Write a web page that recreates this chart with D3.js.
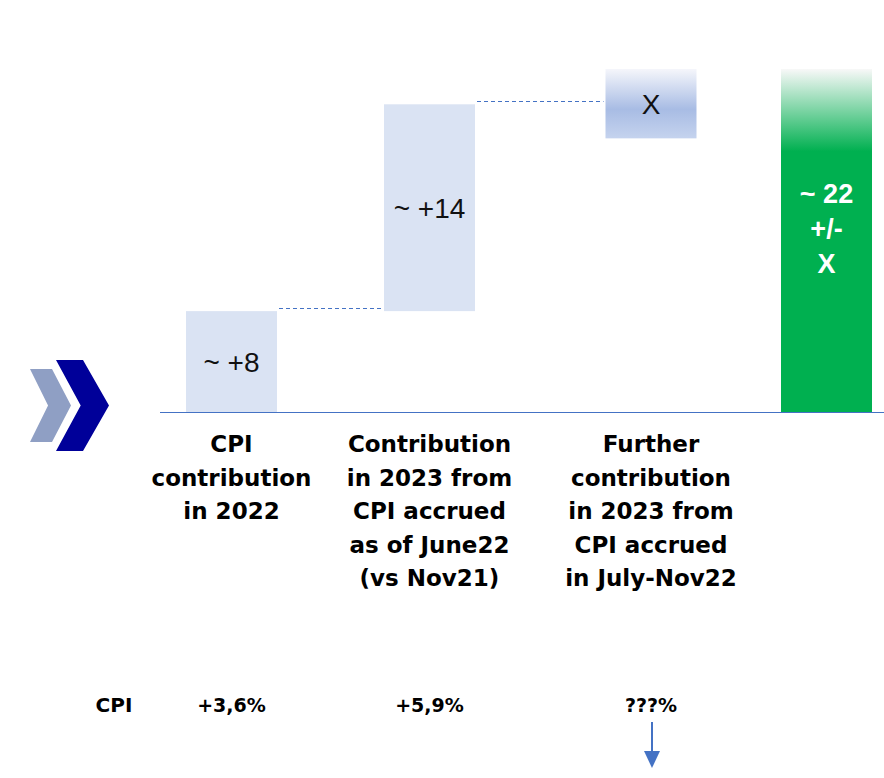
<!DOCTYPE html>
<html>
<head>
<meta charset="utf-8">
<script src="https://cdn.jsdelivr.net/npm/d3@7"></script>
<style>
  html, body { margin: 0; padding: 0; background: #fff; }
  svg { display: block; }
</style>
</head>
<body>
<svg id="chart" width="884" height="778"></svg>
<script>
// Data
const steps = ["step2022", "step2023a", "step2023b", "total"];
const stepLabels = [
  ["CPI", "contribution", "in 2022"],
  ["Contribution", "in 2023 from", "CPI accrued", "as of June22", "(vs Nov21)"],
  ["Further", "contribution", "in 2023 from", "CPI accrued", "in July-Nov22"]
];
const lows = [0, 8, 21.7];
const highs = [8, 24.4, 27.2];
const barText = ["~ +8", "~ +14", "X"];
const totalValue = 27.2;
const totalText = ["~ 22", "+/-", "X"];
const cpiLabel = "CPI";
const cpiValues = ["+3,6%", "+5,9%", "???%"];

const W = 884, H = 778;
const svg = d3.select("#chart");
const FONT = "'DejaVu Sans', sans-serif";
const BLUE = "#4472c4";

const x = d3.scaleOrdinal().domain(steps).range([231.5, 429.5, 651, 826.5]);
const bw = 91;
const y = d3.scaleLinear().domain([0, totalValue]).range([412, 69]);

// gradients
const defs = svg.append("defs");
const gX = defs.append("linearGradient").attr("id", "gX").attr("x1", 0).attr("x2", 0).attr("y1", 0).attr("y2", 1);
gX.append("stop").attr("offset", "0%").attr("stop-color", "#f5f6fb");
gX.append("stop").attr("offset", "58%").attr("stop-color", "#a8bce4");
gX.append("stop").attr("offset", "100%").attr("stop-color", "#c5d3ee");
const gG = defs.append("linearGradient").attr("id", "gG").attr("x1", 0).attr("x2", 0).attr("y1", 0).attr("y2", 1);
gG.append("stop").attr("offset", "0%").attr("stop-color", "#f8f8f8");
gG.append("stop").attr("offset", "24%").attr("stop-color", "#00b050");
gG.append("stop").attr("offset", "100%").attr("stop-color", "#00b050");

// chevrons
function chevron(x0, yc, w, h, notch, fill) {
  const p = d3.path();
  p.moveTo(x0, yc - h / 2);
  p.lineTo(x0 + w - notch, yc - h / 2);
  p.lineTo(x0 + w, yc);
  p.lineTo(x0 + w - notch, yc + h / 2);
  p.lineTo(x0, yc + h / 2);
  p.lineTo(x0 + notch * 0.95, yc);
  p.closePath();
  svg.append("path").attr("d", p.toString()).attr("fill", fill);
}
chevron(30, 405.5, 41, 73, 19, "#8f9fc4");
chevron(56, 405.5, 53, 91, 26, "#000099");

// connectors
const stepsOnly = steps.slice(0, 3);
svg.append("g").selectAll("line").data(stepsOnly.slice(0, 2)).join("line")
  .attr("x1", (d, i) => x(d) + bw / 2 + 2)
  .attr("x2", (d, i) => x(stepsOnly[i + 1]) - bw / 2 - 2)
  .attr("y1", (d, i) => Math.round(y(highs[i])) - 2.5)
  .attr("y2", (d, i) => Math.round(y(highs[i])) - 2.5)
  .attr("stroke", BLUE).attr("stroke-width", 1).attr("stroke-dasharray", "4,3");

// step bars
svg.append("g").selectAll("rect").data(stepsOnly).join("rect")
  .attr("x", d => x(d) - bw / 2)
  .attr("width", bw)
  .attr("y", (d, i) => y(highs[i]))
  .attr("height", (d, i) => y(lows[i]) - y(highs[i]))
  .attr("fill", (d, i) => i === 2 ? "url(#gX)" : "#dae3f3");

svg.append("g").selectAll("text").data(stepsOnly).join("text")
  .attr("x", d => x(d))
  .attr("y", (d, i) => (y(highs[i]) + y(lows[i])) / 2)
  .attr("dy", "0.36em")
  .attr("text-anchor", "middle")
  .style("font-family", "'Liberation Sans', Arial, sans-serif").style("font-size", "28px")
  .style("fill", "#111")
  .text((d, i) => barText[i]);

// total bar
svg.append("rect")
  .attr("x", x("total") - bw / 2).attr("width", bw)
  .attr("y", y(totalValue)).attr("height", y(0) - y(totalValue))
  .attr("fill", "url(#gG)");
svg.append("text")
  .attr("x", x("total")).attr("y", 203)
  .attr("text-anchor", "middle")
  .style("font-family", "'Liberation Sans', Arial, sans-serif").style("font-size", "27px").style("font-weight", "bold")
  .style("fill", "#fff")
  .selectAll("tspan").data(totalText).join("tspan")
  .attr("x", x("total")).attr("dy", (d, i) => i === 0 ? 0 : 35)
  .text(d => d);

// baseline
svg.append("line")
  .attr("x1", 160).attr("x2", W)
  .attr("y1", y(0) + 0.5).attr("y2", y(0) + 0.5)
  .attr("stroke", BLUE).attr("stroke-width", 1);

// category labels
svg.append("g").selectAll("text").data(stepsOnly).join("text")
  .attr("text-anchor", "middle")
  .attr("y", 452)
  .style("font-family", FONT).style("font-size", "23px").style("font-weight", "bold").style("fill", "#000")
  .each(function (d, i) {
    d3.select(this).selectAll("tspan").data(stepLabels[i]).join("tspan")
      .attr("x", x(d)).attr("dy", (t, j) => j === 0 ? 0 : 33.5)
      .text(t => t);
  });

// CPI row
svg.append("text")
  .attr("x", 114).attr("y", 712).attr("text-anchor", "middle")
  .style("font-family", FONT).style("font-size", "20px").style("font-weight", "bold")
  .text(cpiLabel);
svg.append("g").selectAll("text").data(stepsOnly).join("text")
  .attr("x", d => x(d)).attr("y", 712).attr("text-anchor", "middle")
  .style("font-family", FONT).style("font-size", "19px").style("font-weight", "bold")
  .text((d, i) => cpiValues[i]);

// down arrow
const ax = x("step2023b") + 1;
svg.append("line").attr("x1", ax).attr("x2", ax).attr("y1", 722).attr("y2", 752)
  .attr("stroke", BLUE).attr("stroke-width", 2);
svg.append("path")
  .attr("d", `M${ax - 8},751 L${ax + 8},751 L${ax},768 Z`)
  .attr("fill", BLUE);
</script>
</body>
</html>
